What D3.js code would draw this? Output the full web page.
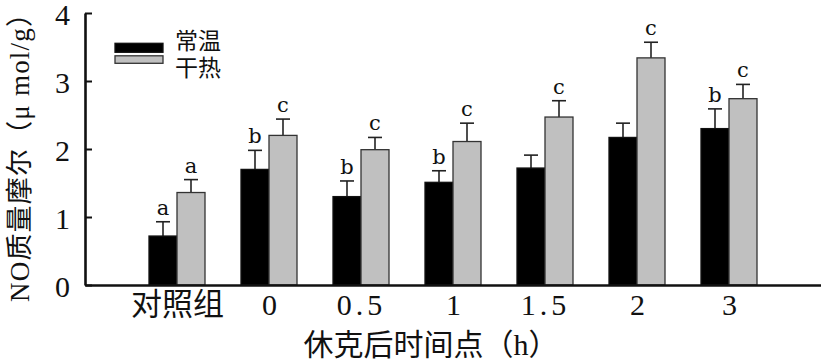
<!DOCTYPE html>
<html><head><meta charset="utf-8">
<script src="https://cdn.jsdelivr.net/npm/d3@7"></script>
<style>body{margin:0;background:#fff}svg{display:block}</style>
</head><body>
<script>
const categories = ["对照组","0","0.5","1","1.5","2","3"];
const normalValues = [0.72, 1.70, 1.30, 1.51, 1.72, 2.17, 2.30];
const normalErrors = [0.21, 0.28, 0.23, 0.17, 0.19, 0.21, 0.29];
const normalLetters = ["a","b","b","b","","","b"];
const dryValues = [1.36, 2.20, 1.99, 2.11, 2.47, 3.34, 2.74];
const dryErrors = [0.19, 0.24, 0.18, 0.27, 0.24, 0.23, 0.21];
const dryLetters = ["a","c","c","c","c","c","c"];
const yTicks = [0,1,2,3,4];
const seriesNames = ["常温","干热"];
const xTitle = "休克后时间点（h）";
const yTitle = "NO质量摩尔（μ mol/g）";

const W = 821, H = 361;
const x0 = 85, x1 = 821, yBottom = 285, yTop = 13;
const serif = "'Liberation Serif','Noto Sans CJK SC',serif";
const cjk = "'Noto Sans CJK SC',sans-serif";

const svg = d3.select("body").append("svg").attr("width", W).attr("height", H);
const x = d3.scalePoint().domain(categories).range([x0, x1]).padding(1);
const y = d3.scaleLinear().domain([0, 4]).range([yBottom, yTop]);
const bw = 28;

const series = [
  {name: seriesNames[0], values: normalValues, errors: normalErrors, letters: normalLetters, fill: "#000", stroke: "#111", off: -bw},
  {name: seriesNames[1], values: dryValues, errors: dryErrors, letters: dryLetters, fill: "#c0c0c0", stroke: "#333", off: 0}
];

series.forEach(s => {
  const g = svg.append("g");
  const d = categories.map((c, i) => ({c, v: s.values[i], e: s.errors[i], l: s.letters[i]}));
  g.selectAll("line.err").data(d).join("line")
    .attr("x1", p => x(p.c) + s.off + bw/2).attr("x2", p => x(p.c) + s.off + bw/2)
    .attr("y1", p => y(p.v)).attr("y2", p => y(p.v + p.e))
    .attr("stroke", "#222").attr("stroke-width", 1.6);
  g.selectAll("line.cap").data(d).join("line")
    .attr("x1", p => x(p.c) + s.off + bw/2 - 7).attr("x2", p => x(p.c) + s.off + bw/2 + 7)
    .attr("y1", p => y(p.v + p.e)).attr("y2", p => y(p.v + p.e))
    .attr("stroke", "#222").attr("stroke-width", 1.6);
  g.selectAll("rect").data(d).join("rect")
    .attr("x", p => x(p.c) + s.off).attr("width", bw)
    .attr("y", p => y(p.v)).attr("height", p => y(0) - y(p.v))
    .attr("fill", s.fill).attr("stroke", s.stroke).attr("stroke-width", 1.3);
  g.selectAll("text").data(d.filter(p => p.l)).join("text")
    .attr("x", p => x(p.c) + s.off + bw/2).attr("y", p => y(p.v + p.e) - 7)
    .attr("text-anchor", "middle").attr("font-family", "'DejaVu Serif',serif").attr("font-size", 21)
    .attr("fill", "#111").text(p => p.l);
});

// y axis
const gy = svg.append("g").attr("transform", `translate(${x0},0)`)
  .call(d3.axisLeft(y).tickValues(yTicks).tickFormat(d3.format("d")).tickSizeInner(-7).tickSizeOuter(0).tickPadding(15));
gy.select(".domain").attr("stroke", "#111").attr("stroke-width", 2.6);
gy.selectAll(".tick line").attr("stroke", "#111").attr("stroke-width", 2);
gy.selectAll(".tick text").attr("font-family", serif).attr("font-size", 30).attr("fill", "#111").attr("dy", "0.38em");

// x axis
const gx = svg.append("g").attr("transform", `translate(0,${yBottom})`)
  .call(d3.axisBottom(x).tickSize(0).tickSizeOuter(0));
gx.select(".domain").attr("stroke", "#111").attr("stroke-width", 2.6);
gx.selectAll(".tick text").attr("font-family", serif).attr("font-size", d => /^[0-9.]+$/.test(d) ? 30 : 31)
  .attr("fill", "#111").attr("y", 30).attr("dy", 0)
  .attr("letter-spacing", d => d.includes(".") ? 4 : 0);

// axis titles
svg.append("text").attr("x", 431).attr("y", 355).attr("text-anchor", "middle")
  .attr("font-family", serif).attr("font-size", 30).attr("fill", "#111").text(xTitle);
svg.append("text").attr("transform", "translate(20,151) rotate(-90)")
  .attr("text-anchor", "middle").attr("dominant-baseline", "central")
  .attr("font-family", serif).attr("font-size", 27).attr("fill", "#111")
  .attr("textLength", 302).attr("lengthAdjust", "spacing").text(yTitle);

// legend
const leg = svg.append("g");
const legY = [47.5, 60];
const legTextY = [39, 65.5];
series.forEach((s, i) => {
  leg.append("rect").attr("x", 115).attr("y", legY[i] - 4.2).attr("width", 48).attr("height", i === 0 ? 9 : 7.5)
    .attr("fill", s.fill).attr("stroke", s.stroke).attr("stroke-width", 1.3);
  leg.append("text").attr("x", 175).attr("y", legTextY[i]).attr("dominant-baseline", "central")
    .attr("font-family", cjk).attr("font-size", 23).attr("fill", "#111").text(s.name);
});
</script>
</body></html>
